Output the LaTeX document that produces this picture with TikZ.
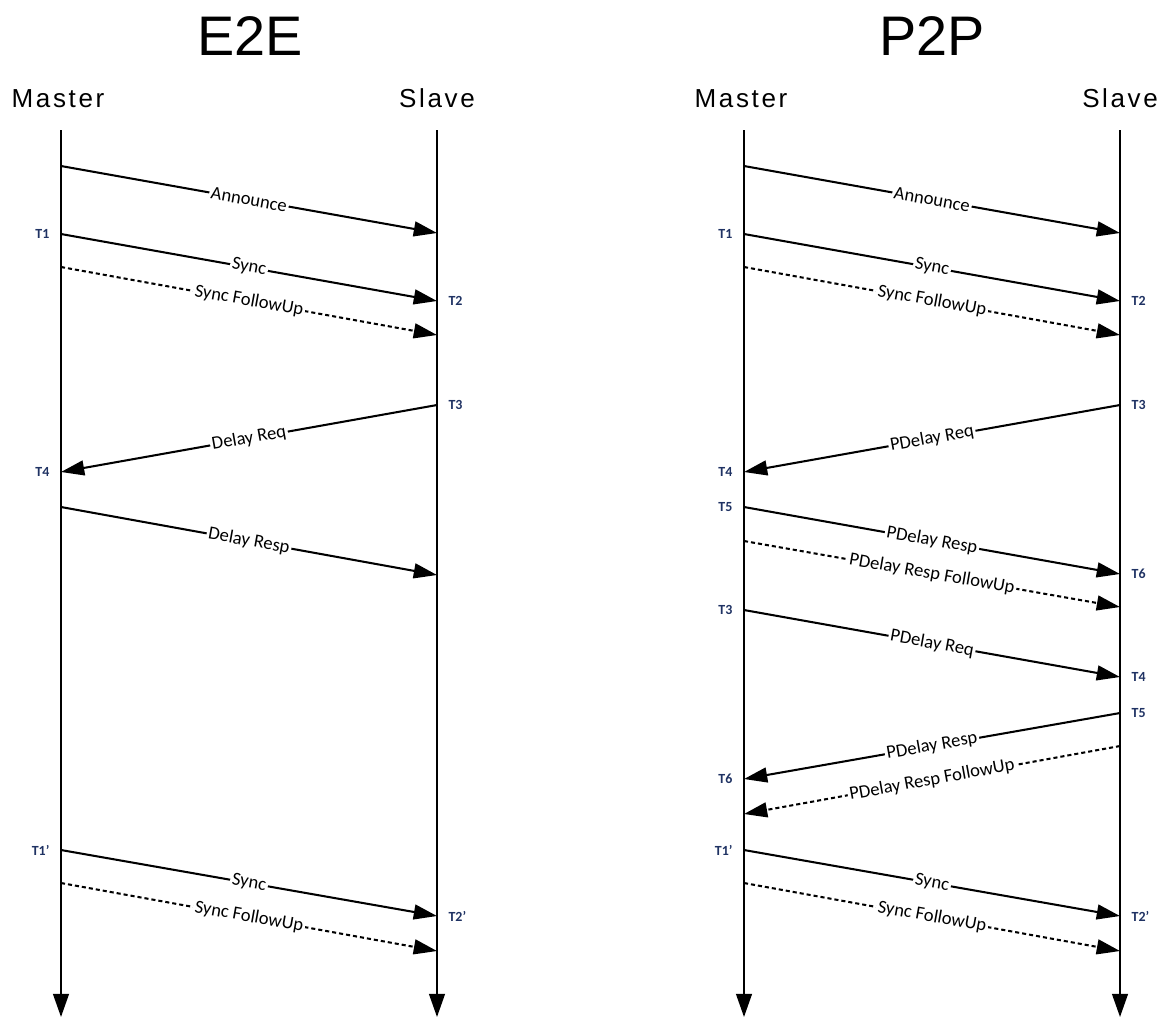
\documentclass[tikz,border=0pt]{standalone}
\usepackage{fontspec}
\setmainfont{Carlito}
\newfontfamily\headfont{Liberation Sans}
\newfontfamily\partyfont[LetterSpace=10]{Liberation Sans}
\usetikzlibrary{arrows.meta}
\pgfdeclarelayer{edgelayer}
\pgfdeclarelayer{nodelayer}
\pgfsetlayers{edgelayer,nodelayer,main}
\definecolor{stampblue}{RGB}{31,50,99}
\tikzstyle{none}=[inner sep=0pt]
\tikzstyle{title}=[anchor=base,font=\headfont\fontsize{30}{30}\selectfont]
\tikzstyle{party}=[anchor=base,font=\partyfont\fontsize{14}{14}\selectfont]
\tikzstyle{stamp}=[text=stampblue,label distance=2pt,font=\bfseries\fontsize{7.5}{8}\selectfont]
\tikzstyle{lifeline}=[-{Triangle[length=12.5pt,width=8.5pt]},line width=1.1pt,draw=black]
\tikzstyle{message}=[-{Triangle[length=12.5pt,width=8pt]},line width=1.1pt,draw=black]
\tikzstyle{followup}=[style=message,dash pattern=on 2.2pt off 1.6pt]
\tikzstyle{msglabel}=[fill=white,inner xsep=1pt,inner ysep=0pt,sloped,font=\fontsize{10}{12}\selectfont]

\begin{document}
\begin{tikzpicture}[x=0.0189cm,y=-0.0189cm]
	\useasboundingbox (0,0) rectangle (1166,1019);
	\begin{pgfonlayer}{nodelayer}
		% E2E
		\node [style=title] (44) at (250, 55) {E2E};
		\node [style=party] (46) at (58, 107) {Master};
		\node [style=party] (47) at (437, 107) {Slave};
		\node [style=none] (0) at (61, 130) {};
		\node [style=none] (1) at (61, 1017) {};
		\node [style=none] (2) at (437, 130) {};
		\node [style=none] (3) at (437, 1017) {};
		\node [style=none] (4) at (61, 166) {};
		\node [style=none] (5) at (437, 233) {};
		\node [style=none, label={[stamp]left:T1}] (6) at (61, 234) {};
		\node [style=none, label={[stamp]right:T2}] (7) at (437, 301) {};
		\node [style=none] (8) at (61, 267) {};
		\node [style=none] (9) at (437, 335) {};
		\node [style=none, label={[stamp]right:T3}] (10) at (437, 405) {};
		\node [style=none, label={[stamp]left:T4}] (11) at (61, 472) {};
		\node [style=none] (12) at (61, 507) {};
		\node [style=none] (13) at (437, 575) {};
		\node [style=none, label={[stamp]left:T1'}] (14) at (61, 850) {};
		\node [style=none, label={[stamp]right:T2'}] (15) at (437, 916) {};
		\node [style=none] (16) at (61, 883) {};
		\node [style=none] (17) at (437, 951) {};
		% P2P
		\node [style=title] (45) at (932, 55) {P2P};
		\node [style=party] (48) at (741, 107) {Master};
		\node [style=party] (49) at (1120, 107) {Slave};
		\node [style=none] (18) at (744, 130) {};
		\node [style=none] (19) at (744, 1017) {};
		\node [style=none] (20) at (1120, 130) {};
		\node [style=none] (21) at (1120, 1017) {};
		\node [style=none] (22) at (744, 166) {};
		\node [style=none] (23) at (1120, 233) {};
		\node [style=none, label={[stamp]left:T1}] (24) at (744, 234) {};
		\node [style=none, label={[stamp]right:T2}] (25) at (1120, 301) {};
		\node [style=none] (26) at (744, 267) {};
		\node [style=none] (27) at (1120, 335) {};
		\node [style=none, label={[stamp]right:T3}] (28) at (1120, 405) {};
		\node [style=none, label={[stamp]left:T4}] (29) at (744, 472) {};
		\node [style=none, label={[stamp]left:T5}] (30) at (744, 507) {};
		\node [style=none, label={[stamp]right:T6}] (31) at (1120, 574) {};
		\node [style=none] (32) at (744, 541) {};
		\node [style=none] (33) at (1120, 607) {};
		\node [style=none, label={[stamp]left:T3}] (34) at (744, 610) {};
		\node [style=none, label={[stamp]right:T4}] (35) at (1120, 677) {};
		\node [style=none, label={[stamp]right:T5}] (36) at (1120, 713) {};
		\node [style=none, label={[stamp]left:T6}] (37) at (744, 779) {};
		\node [style=none] (38) at (1120, 746) {};
		\node [style=none] (39) at (744, 814) {};
		\node [style=none, label={[stamp]left:T1'}] (40) at (744, 850) {};
		\node [style=none, label={[stamp]right:T2'}] (41) at (1120, 916) {};
		\node [style=none] (42) at (744, 883) {};
		\node [style=none] (43) at (1120, 951) {};
	\end{pgfonlayer}
	\begin{pgfonlayer}{edgelayer}
		% E2E
		\draw [style=lifeline] (0.center) to (1.center);
		\draw [style=lifeline] (2.center) to (3.center);
		\draw [style=message] (4.center) to node[msglabel]{Announce} (5.center);
		\draw [style=message] (6.center) to node[msglabel]{Sync} (7.center);
		\draw [style=followup] (8.center) to node[msglabel]{Sync FollowUp} (9.center);
		\draw [style=message] (10.center) to node[msglabel]{Delay Req} (11.center);
		\draw [style=message] (12.center) to node[msglabel]{Delay Resp} (13.center);
		\draw [style=message] (14.center) to node[msglabel]{Sync} (15.center);
		\draw [style=followup] (16.center) to node[msglabel]{Sync FollowUp} (17.center);
		% P2P
		\draw [style=lifeline] (18.center) to (19.center);
		\draw [style=lifeline] (20.center) to (21.center);
		\draw [style=message] (22.center) to node[msglabel]{Announce} (23.center);
		\draw [style=message] (24.center) to node[msglabel]{Sync} (25.center);
		\draw [style=followup] (26.center) to node[msglabel]{Sync FollowUp} (27.center);
		\draw [style=message] (28.center) to node[msglabel]{PDelay Req} (29.center);
		\draw [style=message] (30.center) to node[msglabel]{PDelay Resp} (31.center);
		\draw [style=followup] (32.center) to node[msglabel]{PDelay Resp FollowUp} (33.center);
		\draw [style=message] (34.center) to node[msglabel]{PDelay Req} (35.center);
		\draw [style=message] (36.center) to node[msglabel]{PDelay Resp} (37.center);
		\draw [style=followup] (38.center) to node[msglabel]{PDelay Resp FollowUp} (39.center);
		\draw [style=message] (40.center) to node[msglabel]{Sync} (41.center);
		\draw [style=followup] (42.center) to node[msglabel]{Sync FollowUp} (43.center);
	\end{pgfonlayer}
\end{tikzpicture}
\end{document}
